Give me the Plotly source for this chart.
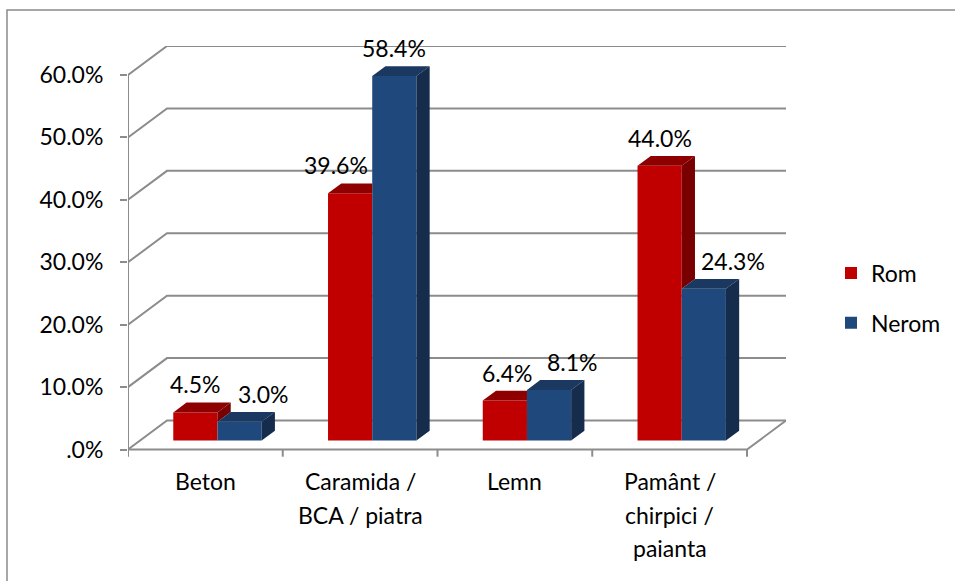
import plotly.graph_objects as go

# ---------------- data ----------------
categories = ["Beton", "Caramida /<br>BCA / piatra", "Lemn", "Pamânt /<br>chirpici /<br>paianta"]
series_names = ["Rom", "Nerom"]
rom_values = [4.5, 39.6, 6.4, 44.0]
nerom_values = [3.0, 58.4, 8.1, 24.3]
y_tick_values = [0, 10, 20, 30, 40, 50, 60]
y_tick_labels = [".0%", "10.0%", "20.0%", "30.0%", "40.0%", "50.0%", "60.0%"]

# ---------------- style / geometry ----------------
FONT = "Lato"
FS = 23
GRID = "#8c8c8c"
RED = ("#C00000", "#8E0000", "#780000")      # front, top, side
BLUE = ("#1F487C", "#1A3860", "#162C4D")

DEPTH_DX = 0.252      # oblique depth of the floor (category units)
DEPTH_DY = 4.64       # oblique depth of the floor (percent units)
F0 = 0.31             # depth fraction where bar fronts sit
BD = 0.34             # bar depth fraction
BAR_W = 0.2856
label_xshift_rom = [0, -14, 3, 0]
label_xshift_nerom = [24, 0, 23, 29]
CAT_LINE_GAP = 33.5   # px between lines of a category label
CAT_FIRST = 3         # px from plot bottom to top of first category line

n = len(categories)
fdx, fdy = F0 * DEPTH_DX, F0 * DEPTH_DY
bdx, bdy = BD * DEPTH_DX, BD * DEPTH_DY
base = fdy

fig = go.Figure()

# front faces as real bars
rom_x = [i - BAR_W / 2 + fdx for i in range(n)]
nerom_x = [i + BAR_W / 2 + fdx for i in range(n)]
fig.add_trace(go.Bar(x=rom_x, y=rom_values, base=base, width=BAR_W, name=series_names[0],
                     marker=dict(color=RED[0], line=dict(width=0)), legendgroup="a", hoverinfo="skip"))
fig.add_trace(go.Bar(x=nerom_x, y=nerom_values, base=base, width=BAR_W, name=series_names[1],
                     marker=dict(color=BLUE[0], line=dict(width=0)), legendgroup="b", hoverinfo="skip"))


def poly_trace(xs, ys, color):
    return go.Scatter(x=xs, y=ys, mode="lines", fill="toself", fillcolor=color,
                      line=dict(width=0, color=color), showlegend=False, hoverinfo="skip")


# red tops / sides (clipped where the blue bar hides them)
rtx, rty, rsx, rsy = [], [], [], []
for i in range(n):
    x0 = rom_x[i] - BAR_W / 2
    x1 = rom_x[i] + BAR_W / 2
    t = base + rom_values[i]
    bt = base + nerom_values[i]
    if nerom_values[i] >= rom_values[i]:
        rtx += [x0, x1, x1, x0 + bdx, x0, None]
        rty += [t, t, t + bdy, t + bdy, t, None]
    else:
        rtx += [x0, x1, x1 + bdx, x0 + bdx, x0, None]
        rty += [t, t, t + bdy, t + bdy, t, None]
        rsx += [x1, x1, x1 + bdx, x1 + bdx, x1, None]
        rsy += [bt, t, t + bdy, bt + bdy, bt, None]
fig.add_trace(poly_trace(rtx, rty, RED[1]))
if rsx:
    fig.add_trace(poly_trace(rsx, rsy, RED[2]))

btx, bty, bsx, bsy = [], [], [], []
for i in range(n):
    x0 = nerom_x[i] - BAR_W / 2
    x1 = nerom_x[i] + BAR_W / 2
    t = base + nerom_values[i]
    btx += [x0, x1, x1 + bdx, x0 + bdx, x0, None]
    bty += [t, t, t + bdy, t + bdy, t, None]
    bsx += [x1, x1, x1 + bdx, x1 + bdx, x1, None]
    bsy += [base, t, t + bdy, base + bdy, base, None]
fig.add_trace(poly_trace(btx, bty, BLUE[1]))
fig.add_trace(poly_trace(bsx, bsy, BLUE[2]))

# ---------------- walls / floor ----------------
shapes = []
xl, xr = -0.5, n - 0.5
line_style = dict(color=GRID, width=2)
for v in y_tick_values:
    shapes.append(dict(type="path", xref="x", yref="y", layer="below", line=line_style,
                       path=f"M{xl},{v} L{xl + DEPTH_DX},{v + DEPTH_DY} L{xr + DEPTH_DX},{v + DEPTH_DY}"))
# floor front + right edge
shapes.append(dict(type="path", xref="x", yref="y", layer="below", line=line_style,
                   path=f"M{xl},0 L{xr},0 L{xr + DEPTH_DX},{DEPTH_DY}"))
# front vertical axis
shapes.append(dict(type="line", xref="x", yref="y", layer="below", line=line_style,
                   x0=xl, x1=xl, y0=0, y1=y_tick_values[-1]))
# category tick marks
for k in range(n + 1):
    shapes.append(dict(type="line", xref="x", yref="y", layer="below", line=line_style,
                       x0=xl + k, x1=xl + k, y0=0, y1=-1.15))
# outer chart border
shapes.append(dict(type="rect", xref="paper", yref="paper", layer="below",
                   line=dict(color="#8a8a8a", width=1.5),
                   x0=(7 - 128) / 658, x1=(962 - 128) / 658,
                   y0=(462.5 - 592) / 416.5, y1=(462.5 - 10) / 416.5))

# ---------------- data labels ----------------
annotations = []
for vals, xs, shifts in ((rom_values, rom_x, label_xshift_rom), (nerom_values, nerom_x, label_xshift_nerom)):
    for i, v in enumerate(vals):
        annotations.append(dict(x=xs[i], y=base + v, xref="x", yref="y", text=f"{v:.1f}%",
                                showarrow=False, xanchor="center", yanchor="middle",
                                xshift=shifts[i], yshift=28,
                                font=dict(family=FONT, size=FS, color="#000000")))

# category labels (one annotation per line, to reproduce the wider line spacing)
for i, cat in enumerate(categories):
    for k, part in enumerate(cat.split("<br>")):
        annotations.append(dict(x=i, y=0, xref="x", yref="paper", text=part, showarrow=False,
                                xanchor="center", yanchor="top",
                                yshift=-(CAT_FIRST + k * CAT_LINE_GAP),
                                font=dict(family=FONT, size=FS, color="#000000")))

fig.update_layout(
    width=955, height=581,
    margin=dict(l=128, r=169, t=46, b=118.5, autoexpand=False),
    paper_bgcolor="white", plot_bgcolor="white",
    barmode="overlay",
    font=dict(family=FONT, size=FS, color="#000000"),
    shapes=shapes, annotations=annotations,
    showlegend=True,
    legend=dict(xref="container", yref="container", x=831 / 955, y=1 - 298 / 581,
                xanchor="left", yanchor="middle", tracegroupgap=17,
                font=dict(family=FONT, size=FS, color="#000000"), bgcolor="rgba(0,0,0,0)"),
    xaxis=dict(range=[xl, xr + DEPTH_DX], tickvals=list(range(n)), ticktext=[""] * n,
               showgrid=False, zeroline=False, showline=False, ticks="", fixedrange=True),
    yaxis=dict(range=[-2, y_tick_values[-1] + DEPTH_DY], tickvals=y_tick_values, ticktext=y_tick_labels,
               showgrid=False, zeroline=False, showline=False, ticks="outside", ticklen=7,
               tickwidth=2, tickcolor=GRID, ticklabelstandoff=12, fixedrange=True),
)

fig.write_html("out.html", config={"displayModeBar": False},
               post_script="document.body.style.margin='0';document.body.style.overflow='hidden';")
